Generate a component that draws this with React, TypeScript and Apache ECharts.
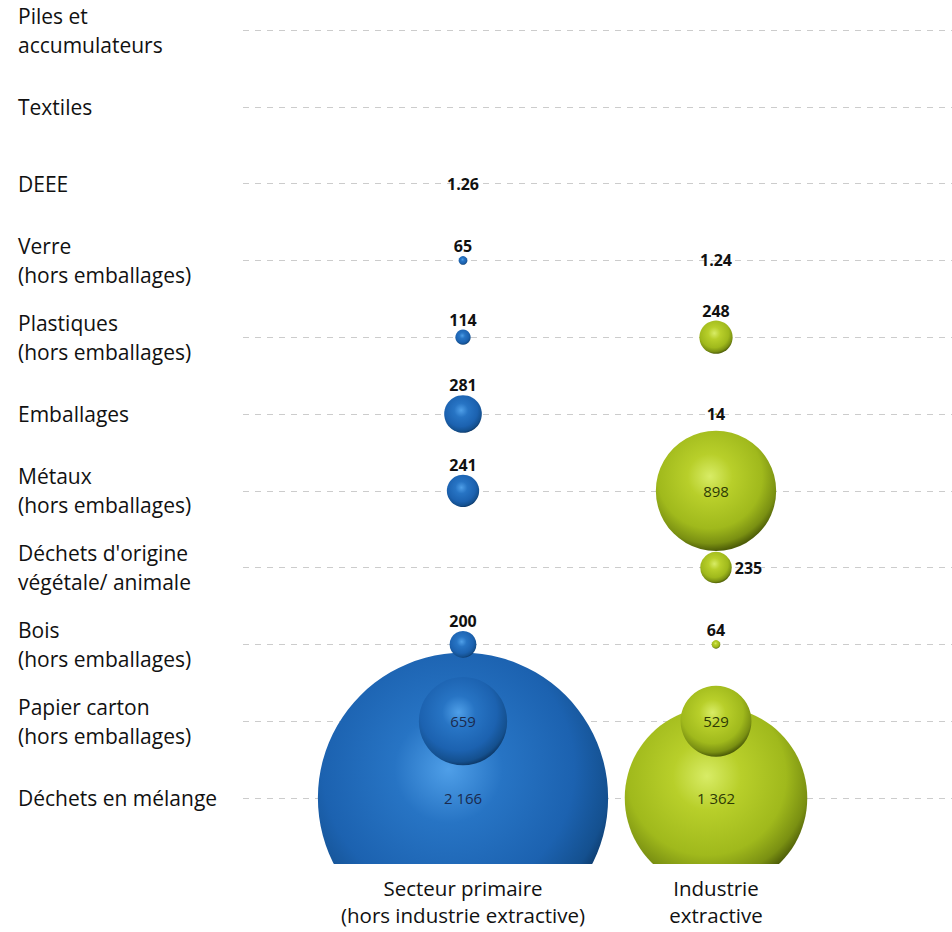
import React, { useEffect, useRef } from "react";
import * as echarts from "echarts";

const categories = [
  "Piles et\naccumulateurs",
  "Textiles",
  "DEEE",
  "Verre\n(hors emballages)",
  "Plastiques\n(hors emballages)",
  "Emballages",
  "Métaux\n(hors emballages)",
  "Déchets d'origine\nvégétale/ animale",
  "Bois\n(hors emballages)",
  "Papier carton\n(hors emballages)",
  "Déchets en mélange",
];
const sectors = ["Secteur primaire\n(hors industrie extractive)", "Industrie\nextractive"];
const primaire: (number | null)[] = [null, null, 1.26, 65, 114, 281, 241, null, 200, 659, 2166];
const extractive: (number | null)[] = [null, null, null, 1.24, 248, 14, 898, 235, 64, 529, 1362];

const FONT = "Open Sans";

function fmt(v: number): string {
  if (v >= 1000) {
    const s = String(Math.round(v));
    return s.slice(0, s.length - 3) + " " + s.slice(s.length - 3);
  }
  return String(v);
}

function buildData(values: (number | null)[], xi: number, insideColor: string) {
  const items: any[] = [];
  values.forEach((v, i) => {
    if (v == null) return;
    let label: any;
    if (v >= 500) {
      label = { position: "inside", fontSize: 15, fontWeight: "normal", color: insideColor };
    } else if (v < 20) {
      label = { position: "inside", fontSize: 16, fontWeight: "bold", color: "#111" };
    } else if (i === 7) {
      label = { position: "right", distance: 3, fontSize: 16, fontWeight: "bold", color: "#111" };
    } else {
      label = { position: "top", distance: 2, fontSize: 16, fontWeight: "bold", color: "#111" };
    }
    items.push({ value: [xi, i, v], label });
  });
  items.sort((a, b) => b.value[2] - a.value[2]);
  return items;
}

const blueGrad = {
  type: "radial",
  x: 0.45,
  y: 0.4,
  r: 0.62,
  colorStops: [
    { offset: 0, color: "#4f9fe8" },
    { offset: 0.3, color: "#2774c4" },
    { offset: 0.7, color: "#1c62b0" },
    { offset: 0.9, color: "#14508f" },
    { offset: 1, color: "#0b335f" },
  ],
};
const greenGrad = {
  type: "radial",
  x: 0.45,
  y: 0.38,
  r: 0.62,
  colorStops: [
    { offset: 0, color: "#d8ec66" },
    { offset: 0.3, color: "#b8cf2a" },
    { offset: 0.7, color: "#a0b91c" },
    { offset: 0.9, color: "#7a9012" },
    { offset: 1, color: "#4e5e08" },
  ],
};

const SIZE_K = 0.134;

export default function App() {
  const ref = useRef<HTMLDivElement>(null);
  useEffect(() => {
    if (!ref.current) return;
    const chart = echarts.init(ref.current, null, { renderer: "svg" });
    const labelBase = { show: true, fontFamily: FONT, formatter: (p: any) => fmt(p.value[2]) };
    chart.setOption({
      animation: false,
      backgroundColor: "#ffffff",
      textStyle: { fontFamily: FONT },
      grid: { left: 243, right: 0, top: 30, bottom: 134 },
      xAxis: {
        type: "value",
        min: -0.8696,
        max: 1.9328,
        z: 200,
        axisLine: { show: false },
        axisTick: { show: false },
        splitLine: { show: false },
        axisLabel: {
          customValues: [0, 1],
          formatter: (v: number) => sectors[Math.round(v)] ?? "",
          fontFamily: FONT,
          fontSize: 20.5,
          lineHeight: 27,
          color: "#111",
          margin: 76,
          align: "center",
        },
      },
      yAxis: {
        type: "category",
        data: categories,
        inverse: true,
        boundaryGap: false,
        axisLine: { show: false },
        axisTick: { show: false },
        axisLabel: {
          align: "left",
          margin: 225,
          fontFamily: FONT,
          fontSize: 21,
          lineHeight: 29,
          color: "#111",
          interval: 0,
        },
        splitLine: {
          show: true,
          lineStyle: { color: "#cccccc", type: [6, 6], width: 1 },
        },
      },
      graphic: [
        {
          type: "rect",
          z: 100,
          shape: { x: 0, y: 864, width: 952, height: 68 },
          style: { fill: "#ffffff" },
          silent: true,
        },
      ],
      series: [
        {
          type: "scatter",
          name: "Secteur primaire",
          data: buildData(primaire, 0, "#1a2a4e"),
          symbolSize: (d: number[]) => d[2] * SIZE_K,
          itemStyle: { color: blueGrad, opacity: 1 },
          label: labelBase,
          z: 2,
        },
        {
          type: "scatter",
          name: "Industrie extractive",
          data: buildData(extractive, 1, "#2e3a05"),
          symbolSize: (d: number[]) => d[2] * SIZE_K,
          itemStyle: { color: greenGrad, opacity: 1 },
          label: labelBase,
          z: 2,
        },
      ],
    });
    return () => chart.dispose();
  }, []);
  return (
    <div
      ref={ref}
      style={{ position: "fixed", left: 0, top: 0, width: 952, height: 932, background: "#fff" }}
    />
  );
}
